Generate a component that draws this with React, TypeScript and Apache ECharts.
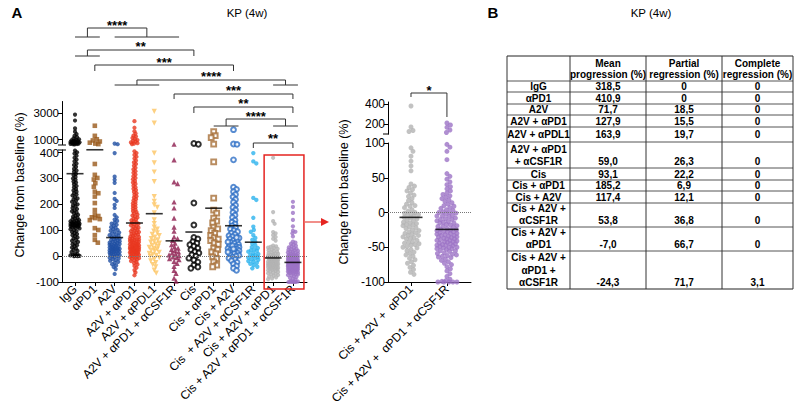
import React, { useEffect, useRef } from "react";
import * as echarts from "echarts";

// ---------------- DATA ----------------
const groupLabels = [
  "IgG",
  "αPD1",
  "A2V",
  "A2V + αPD1",
  "A2V + αPDL1",
  "A2V + αPD1 + αCSF1R",
  "Cis",
  "Cis + αPD1",
  "Cis + A2V",
  "Cis  + A2V + αCSF1R",
  "Cis + A2V + αPD1",
  "Cis + A2V + αPD1 + αCSF1R",
];

const tableLabels = [
  "IgG",
  "αPD1",
  "A2V",
  "A2V + αPD1",
  "A2V + αPDL1",
  "A2V + αPD1\n+ αCSF1R",
  "Cis",
  "Cis + αPD1",
  "Cis + A2V",
  "Cis + A2V +\nαCSF1R",
  "Cis + A2V +\nαPD1",
  "Cis + A2V +\nαPD1 +\nαCSF1R",
];

const tableHeaders = ["Mean\nprogression (%)", "Partial\nregression (%)", "Complete\nregression (%)"];
const meanProgression = [318.5, 410.9, 71.7, 127.9, 163.9, 59.0, 93.1, 185.2, 117.4, 53.8, -7.0, -24.3];
const partialRegression = [0, 0, 18.5, 15.5, 19.7, 26.3, 22.2, 6.9, 12.1, 36.8, 66.7, 71.7];
const completeRegression = [0, 0, 0, 0, 0, 0, 0, 0, 0, 0, 0, 3.1];

const iggValues = [
  2900, 2450, 1850, 1600, 1420, 1280, 1180, 1090, 1020, 980, 940, 910, 880, 860, 835, 810, 790, 770, 745, 725, 700,
  690, 670, 655, 640, 630, 408, 401, 396, 388, 380, 373, 366, 358, 352, 345, 337, 331, 326, 318, 313, 306, 300, 295,
  288, 284, 277, 271, 266, 259, 254, 249, 243, 238, 234, 228, 223, 219, 214, 210, 204, 200, 196, 191, 186, 182, 177,
  173, 169, 165, 160, 156, 152, 148, 145, 142, 139, 136, 133, 131, 129, 127, 125, 123, 121, 119, 117, 115, 113, 110,
  107, 104, 101, 97, 93, 89, 85, 81, 77, 72, 68, 63, 59, 55, 50, 46, 42, 38, 33, 29, 24, 20, 16, 11, 7, 4, 2, 0, 1,
  3, 0, 128, 124, 120, 134, 116, 112,
];
const apd1Values = [
  2050, 1280, 1020, 930, 850, 760, 690, 650, 356, 314, 302, 296, 282, 268, 249, 243, 230, 205, 178, 161, 155, 150,
  147, 143, 139, 108, 101, 81, 63, 52,
];
const a2vValues = [
  690, 640, 398, 307, 295, 283, 244, 221, 213, 198, 186, 159, 150, 141, 136, 129, 126, 121, 117, 112, 109, 104, 101,
  98, 94, 91, 88, 84, 81, 79, 76, 73, 70, 68, 65, 62, 60, 57, 55, 52, 50, 47, 45, 43, 40, 38, 36, 34, 31, 29, 27, 25,
  23, 21, 19, 17, 15, 13, 11, 9, 7, 5, 3, 1, -1, -3, -6, -9, -12, -15, -18, -22, -26, -31, -36, -42, -50, -69, 44,
  37, 28, 22, 16, 10, 33, 58, 48, 26,
];
const a2vPd1Values = [
  2400, 1900, 1630, 1450, 1300, 1230, 1120, 1040, 960, 900, 840, 780, 720, 680, 650, 405, 398, 391, 384, 377, 369,
  362, 356, 349, 341, 335, 328, 322, 315, 309, 302, 297, 290, 284, 279, 272, 266, 260, 255, 248, 243, 237, 231, 226,
  220, 215, 209, 204, 199, 194, 189, 184, 179, 174, 170, 165, 161, 157, 153, 149, 145, 141, 138, 134, 131, 128, 125,
  122, 119, 116, 113, 110, 107, 104, 101, 98, 96, 93, 91, 88, 86, 83, 81, 78, 76, 74, 71, 69, 67, 64, 62, 60, 58, 56,
  54, 52, 50, 48, 46, 44, 42, 40, 38, 37, 35, 33, 31, 30, 28, 26, 25, 23, 21, 20, 18, 16, 15, 13, 11, 10, 8, 6, 5, 3,
  1, 0, -2, -4, -6, -8, -10, -13, -16, -19, -23, -27, -32, -38, -45, -54, -63, -74, 45, 40, 35, 30, 25, 20, 15, 55,
  65, 12,
];
const a2vPdl1Values = [
  3150, 2250, 398, 360, 325, 288, 230, 212, 198, 188, 167, 140, 126, 112, 104, 97, 90, 84, 79, 73, 68, 63, 58, 54, 50,
  46, 42, 38, 34, 30, 27, 23, 19, 15, 11, 7, 3, -1, -6, -12, -18, -25, -33, -41, -54, -66,
];
const a2vPd1CsfValues = [
  640, 372, 287, 280, 209, 186, 147, 112, 96, 74, 68, 61, 50, 44, 36, 31, 26, 21, 16, 12, 8, 5, 2, -3, -6, -10, -14,
  -20, -28, -40, -55, -67, -85, -97,
];
const cisValues = [700, 640, 205, 120, 72, 66, 56, 50, 44, 38, 31, 25, 17, 12, 5, 0, -8, -15, -23, -35, -47, -42];
const cisPd1Values = [
  1600, 1300, 1150, 650, 364, 224, 178, 166, 147, 135, 128, 112, 105, 98, 88, 80, 71, 66, 60, 51, 45, 31, 25, 16, 10,
  -3, -10, -22, -35, -41,
];
const cisA2vValues = [
  1750, 660, 630, 372, 266, 258, 249, 238, 229, 219, 208, 197, 188, 178, 169, 158, 149, 139, 131, 124, 117, 111, 105,
  99, 94, 89, 84, 79, 75, 70, 66, 61, 57, 53, 49, 45, 41, 37, 34, 30, 27, 24, 21, 18, 15, 12, 9, 6, 3, 0, -4, -8, -13,
  -18, -24, -30, -38, -47, -55, 40, 28, 16, 72, 55,
];
const cisA2vCsfValues = [
  398, 366, 358, 225, 217, 148, 114, 101, 94, 81, 70, 63, 55, 48, 41, 35, 31, 26, 22, 17, 12, 8, 5, 1, -3, -6, -10,
  -14, -19, -22, -26, -30, -35, -41, -47, 20, 4, -12,
];
const cisA2vPd1Values = [
  380, 170, 135, 125, 93, 88, 81, 74, 67, 60, 41, 38, 36, 33, 31, 28, 25, 23, 20, 17, 14, 12, 9, 7, 4, 2, 0, -2, -4,
  -5, -7, -9, -11, -12, -14, -16, -18, -19, -21, -23, -25, -26, -28, -30, -31, -33, -35, -37, -38, -40, -42, -44, -45,
  -47, -49, -51, -53, -55, -57, -59, -61, -63, -66, -68, -71, -73, -76, -79, -82, -86, -89, -1, -8, -15, -22, -29,
  -36, -43, -50, 10, -3, -17, -33, -46,
];
const cisA2vPd1CsfValues = [
  210, 190, 167, 140, 115, 98, 94, 88, 76, 56, 52, 48, 44, 40, 37, 34, 31, 28, 26, 24, 22, 20, 18, 16, 14, 12, 10, 9,
  7, 6, 4, 3, 1, 0, -1, -2, -4, -5, -6, -8, -9, -10, -12, -13, -14, -15, -17, -18, -19, -20, -21, -23, -24, -25, -26,
  -27, -28, -29, -30, -31, -32, -33, -34, -35, -36, -37, -38, -39, -40, -41, -42, -43, -44, -45, -46, -47, -48, -49,
  -50, -51, -52, -53, -55, -56, -58, -59, -61, -62, -64, -65, -67, -69, -71, -73, -75, -78, -81, -84, -88, -92, -96,
  -98, -99, -100, -100, -100, -100, -100, -30, -35, -40, -45, -25, -20, -50, -55, -60, -15, -10, -5, 0, -38, -42,
  -33, -28, -47, -52, -63,
];

const groupValues = [
  iggValues,
  apd1Values,
  a2vValues,
  a2vPd1Values,
  a2vPdl1Values,
  a2vPd1CsfValues,
  cisValues,
  cisPd1Values,
  cisA2vValues,
  cisA2vCsfValues,
  cisA2vPd1Values,
  cisA2vPd1CsfValues,
];

const insetLabels = ["Cis + A2V +  αPD1", "Cis + A2V +  αPD1 + αCSF1R"];
const insetGroups = [10, 11];
const insetMeans = [-7.0, -24.3];

const leftUpperTicks = [1000, 3000];
const leftLowerTicks = [-100, 0, 100, 200, 300, 400];
const insetUpperTicks = [200, 400];
const insetLowerTicks = [-100, -50, 0, 50, 100];

const comparisons = [
  { left: [0, 1], right: [2, 5], stars: "****" },
  { left: [0, 1], right: [6, 6], stars: "**" },
  { left: [1, 1], right: [8, 8], stars: "***" },
  { left: [2, 4], right: [10, 11], stars: "****" },
  { left: [5, 5], right: [11, 11], stars: "***" },
  { left: [6, 6], right: [11, 11], stars: "**" },
  { left: [7, 8], right: [10, 11], stars: "****" },
  { left: [9, 9], right: [11, 11], stars: "**" },
];
const insetComparison = { stars: "*" };

// ---------------- STYLE / LAYOUT ----------------
const FONT = "Liberation Sans, Arial, sans-serif";
const groupStyles: any[] = [
  { color: "#000000", symbol: "circle", size: 4.2, gap: 2.6, spread: 4.6 },
  { color: "#9a5a1c", symbol: "rect", size: 4.6, gap: 3.8, spread: 5 },
  { color: "#1f4fa3", symbol: "circle", size: 4.2, gap: 2.8, spread: 5 },
  { color: "#e9371f", symbol: "circle", size: 4.2, gap: 2.5, spread: 4.5 },
  { color: "#fcc462", symbol: "triangle", size: 5.2, rotate: 180, gap: 3.6, spread: 5 },
  { color: "#8c1c4e", symbol: "triangle", size: 5.2, gap: 3.6, spread: 5 },
  { color: "#000000", symbol: "emptyCircle", size: 4.8, gap: 4.2, spread: 5.5 },
  { color: "#a8703a", symbol: "emptyRect", size: 4.8, gap: 4.2, spread: 5.5 },
  { color: "#2e6fc6", symbol: "emptyCircle", size: 4.8, gap: 3.4, spread: 5.5 },
  { color: "#2cb3ee", symbol: "circle", size: 4.4, gap: 3.4, spread: 5 },
  { color: "#b3b3b3", symbol: "circle", size: 4.2, gap: 2.8, spread: 5 },
  { color: "#9c73c6", symbol: "circle", size: 4.2, gap: 2.6, spread: 5 },
];
const insetSpread = [8, 10];
const bracketLevels = [
  { bar: 28, foot: 37, star: 22 },
  { bar: 50, foot: 56, star: 43 },
  { bar: 65, foot: 71, star: 59 },
  { bar: 80, foot: 85, star: 73 },
  { bar: 94, foot: 99, star: 87 },
  { bar: 107, foot: 113, star: 100 },
  { bar: 119, foot: 126, star: 113 },
  { bar: 143, foot: 148, star: 135 },
];
const LEFT_BREAK = 410;
const INSET_BREAK = 100;
const tableCols = [507, 570, 646, 722, 793];
const tableTop = 56;
const tableRowBottoms = [81, 92, 104, 115, 127, 142, 168, 180, 191, 203, 227, 251, 289];

function fmt(v: number) {
  if (v === 0) return "0";
  return v.toFixed(1).replace(".", ",");
}

function swarm(ys: number[], gap: number, maxOff: number): number[] {
  const order = ys.map((_, i) => i).sort((a, b) => ys[a] - ys[b]);
  const placed: { x: number; y: number }[] = [];
  const out = new Array(ys.length).fill(0);
  const step = 0.5;
  for (const i of order) {
    const y = ys[i];
    const near = placed.filter((p) => Math.abs(p.y - y) < gap);
    let best = 0;
    let bestScore = -Infinity;
    const nSteps = Math.floor(maxOff / step);
    for (let k = 0; k <= nSteps * 2; k++) {
      const off = (k % 2 === 1 ? 1 : -1) * Math.ceil(k / 2) * step;
      let minD = Infinity;
      for (const p of near) {
        const d = Math.hypot(p.x - off, p.y - y);
        if (d < minD) minD = d;
      }
      if (minD >= gap) {
        best = off;
        bestScore = Infinity;
        break;
      }
      if (minD > bestScore) {
        bestScore = minD;
        best = off;
      }
    }
    out[i] = best;
    placed.push({ x: best, y });
  }
  return out;
}

const axisBase = (extra: any = {}) => ({
  type: "value",
  splitLine: { show: false },
  axisLine: { show: true, onZero: false, lineStyle: { color: "#000", width: 1 } },
  axisTick: { show: true, length: 4, lineStyle: { color: "#000", width: 1 } },
  axisLabel: { color: "#000", fontSize: 12, fontFamily: FONT, margin: 3 },
  ...extra,
});

const yLabel = (customValues: number[], size = 12) => ({
  customValues,
  color: "#000",
  fontSize: size,
  fontFamily: FONT,
  margin: 3,
  formatter: (v: number) => String(v),
});
const yTick = (customValues: number[]) => ({
  show: true,
  length: 4,
  lineStyle: { color: "#000" },
  customValues,
});

function buildOption(leftOff: number[][] | null, insetOff: number[][] | null, graphic: any[]) {
  const series: any[] = [];
  groupValues.forEach((vals, g) => {
    const st = groupStyles[g];
    const up: number[][] = [];
    const lo: number[][] = [];
    vals.forEach((v, i) => {
      const x = g + (leftOff ? leftOff[g][i] : 0);
      if (v > LEFT_BREAK) up.push([x, v]);
      else lo.push([x, v]);
    });
    const common = {
      type: "scatter",
      symbol: st.symbol,
      symbolSize: st.size,
      symbolRotate: st.rotate || 0,
      itemStyle: { color: st.color, borderColor: st.color, borderWidth: st.symbol.startsWith("empty") ? 1 : 0 },
      silent: true,
      clip: false,
    };
    series.push({ ...common, xAxisIndex: 0, yAxisIndex: 0, data: up });
    series.push({ ...common, xAxisIndex: 1, yAxisIndex: 1, data: lo });
  });
  series.push({
    type: "scatter",
    xAxisIndex: 1,
    yAxisIndex: 1,
    symbol: "rect",
    symbolSize: [17, 1.6],
    itemStyle: { color: "#000" },
    z: 10,
    silent: true,
    clip: false,
    data: meanProgression.map((m, g) => [g, m]),
    markLine: {
      silent: true,
      symbol: ["none", "none"],
      label: { show: false },
      lineStyle: { color: "#777", type: "dotted", width: 1 },
      data: [{ yAxis: 0 }],
    },
  });
  insetGroups.forEach((g, k) => {
    const st = groupStyles[g];
    const up: number[][] = [];
    const lo: number[][] = [];
    groupValues[g].forEach((v, i) => {
      const x = k + (insetOff ? insetOff[k][i] : 0);
      if (v > INSET_BREAK) up.push([x, v]);
      else lo.push([x, v]);
    });
    const common = {
      type: "scatter",
      symbol: st.symbol,
      symbolSize: 5,
      itemStyle: { color: st.color },
      silent: true,
      clip: false,
    };
    series.push({ ...common, xAxisIndex: 2, yAxisIndex: 2, data: up });
    series.push({ ...common, xAxisIndex: 3, yAxisIndex: 3, data: lo });
  });
  series.push({
    type: "scatter",
    xAxisIndex: 3,
    yAxisIndex: 3,
    symbol: "rect",
    symbolSize: [23, 1.6],
    itemStyle: { color: "#000" },
    z: 10,
    silent: true,
    clip: false,
    data: insetMeans.map((m, k) => [k, m]),
    markLine: {
      silent: true,
      symbol: ["none", "none"],
      label: { show: false },
      lineStyle: { color: "#777", type: "dotted", width: 1 },
      data: [{ yAxis: 0 }],
    },
  });

  const idx = groupLabels.map((_, i) => i);
  const xLabel = (customValues: number[], labels: string[]) => ({
    customValues,
    rotate: 45,
    fontSize: 12,
    fontFamily: FONT,
    color: "#000",
    margin: 5,
    formatter: (v: number) => labels[Math.round(v)] ?? "",
  });
  return {
    animation: false,
    backgroundColor: "#fff",
    grid: [
      { left: 62, width: 245, top: 101.5, height: 43 },
      { left: 62, width: 245, top: 150, height: 132 },
      { left: 388, width: 83, top: 102, height: 32 },
      { left: 388, width: 83, top: 143, height: 139 },
    ],
    xAxis: [
      axisBase({ gridIndex: 0, min: -0.657, max: 11.71, show: false }),
      axisBase({
        gridIndex: 1,
        min: -0.657,
        max: 11.71,
        axisTick: yTick(idx),
        axisLabel: xLabel(idx, groupLabels),
      }),
      axisBase({ gridIndex: 2, min: -0.64, max: 1.67, show: false }),
      axisBase({
        gridIndex: 3,
        min: -0.64,
        max: 1.67,
        axisTick: yTick([0, 1]),
        axisLabel: xLabel([0, 1], insetLabels),
      }),
    ],
    yAxis: [
      axisBase({
        gridIndex: 0,
        min: 620,
        max: 3900,
        axisTick: yTick(leftUpperTicks),
        axisLabel: yLabel(leftUpperTicks, 11.5),
      }),
      axisBase({
        gridIndex: 1,
        min: -100,
        max: LEFT_BREAK,
        axisTick: yTick(leftLowerTicks),
        axisLabel: yLabel(leftLowerTicks, 11.5),
      }),
      axisBase({
        gridIndex: 2,
        min: INSET_BREAK,
        max: 420,
        axisTick: yTick(insetUpperTicks),
        axisLabel: yLabel(insetUpperTicks),
      }),
      axisBase({
        gridIndex: 3,
        min: -100,
        max: INSET_BREAK,
        axisTick: yTick(insetLowerTicks),
        axisLabel: yLabel(insetLowerTicks),
      }),
    ],
    series,
    graphic: { elements: graphic },
  };
}

const txt = (x: number, y: number, text: string, o: any = {}) => ({
  type: "text",
  x,
  y,
  rotation: o.rotation || 0,
  silent: true,
  z: 100,
  style: {
    text,
    fill: o.fill || "#000",
    fontFamily: FONT,
    fontSize: o.size || 12,
    fontWeight: o.weight || "normal",
    align: o.align || "center",
    verticalAlign: "middle",
    textAlign: o.align || "center",
    textVerticalAlign: "middle",
    lineHeight: o.lineHeight || 12,
  },
});
const ln = (x1: number, y1: number, x2: number, y2: number, stroke = "#222", w = 1) => ({
  type: "line",
  silent: true,
  z: 100,
  shape: { x1, y1, x2, y2 },
  style: { stroke, lineWidth: w },
});
const pl = (points: number[][], stroke = "#333", w = 1) => ({
  type: "polyline",
  silent: true,
  z: 100,
  shape: { points },
  style: { stroke, lineWidth: w, fill: null },
});

export default function App() {
  const ref = useRef<HTMLDivElement>(null);
  useEffect(() => {
    const chart = echarts.init(ref.current!, null, { renderer: "svg" });
    chart.setOption(buildOption(null, null, []) as any, true);

    const px = (axis: any, v: number) => chart.convertToPixel(axis, v) as unknown as number;
    const unitL = px({ xAxisIndex: 1 }, 1) - px({ xAxisIndex: 1 }, 0);
    const unitI = px({ xAxisIndex: 3 }, 1) - px({ xAxisIndex: 3 }, 0);
    const leftOff = groupValues.map((vals, g) => {
      const ys = vals.map((v) => px({ yAxisIndex: v > LEFT_BREAK ? 0 : 1 }, v));
      return swarm(ys, groupStyles[g].gap, groupStyles[g].spread).map((o) => o / unitL);
    });
    const insetOff = insetGroups.map((g, k) => {
      const ys = groupValues[g].map((v) => px({ yAxisIndex: v > INSET_BREAK ? 2 : 3 }, v));
      return swarm(ys, 4.0, insetSpread[k]).map((o) => o / unitI);
    });

    const gx = (g: number) => px({ xAxisIndex: 1 }, g);
    const ix = (k: number) => px({ xAxisIndex: 3 }, k);
    const els: any[] = [];

    // panel labels and titles
    els.push(txt(17, 12, "A", { size: 15, weight: "bold" }));
    els.push(txt(493, 12, "B", { size: 15, weight: "bold" }));
    els.push(txt(247, 13, "KP (4w)", { size: 11.5 }));
    els.push(txt(651, 13, "KP (4w)", { size: 11.5 }));
    els.push(txt(20, 185, "Change from baseline (%)", { size: 12.5, rotation: Math.PI / 2 }));
    els.push(txt(344, 192, "Change from baseline (%)", { size: 12.5, rotation: Math.PI / 2 }));

    // axis break marks
    els.push(ln(58, 145, 66, 145, "#000"));
    els.push(ln(58, 150, 66, 150, "#000"));
    els.push(ln(383, 134, 389, 134, "#000"));

    // significance brackets (left panel)
    comparisons.forEach((c, i) => {
      const lv = bracketLevels[i];
      const side = (r: number[]) => {
        if (r[0] === r[1]) return { leg: gx(r[0]), sub: null as null | number[] };
        const a = gx(r[0]);
        const b = gx(r[1]) + 5;
        return { leg: (a + b) / 2, sub: [a, b] };
      };
      const L = side(c.left);
      const R = side(c.right);
      els.push(pl([[L.leg, lv.foot], [L.leg, lv.bar], [R.leg, lv.bar], [R.leg, lv.foot]]));
      if (L.sub) els.push(ln(L.sub[0], lv.foot, L.sub[1], lv.foot, "#333"));
      if (R.sub) els.push(ln(R.sub[0], lv.foot, R.sub[1], lv.foot, "#333"));
      els.push(txt((L.leg + R.leg) / 2, lv.star + 3, c.stars, { size: 13, weight: "bold" }));
    });

    // inset bracket
    els.push(pl([[ix(0), 97], [ix(0), 93], [ix(1), 93], [ix(1), 117]]));
    els.push(txt((ix(0) + ix(1)) / 2, 90, insetComparison.stars, { size: 13, weight: "bold" }));

    // red highlight box and arrow
    els.push({
      type: "rect",
      silent: true,
      z: 90,
      shape: { x: gx(10) - 9, y: 155, width: gx(11) - gx(10) + 20, height: 134 },
      style: { fill: null, stroke: "#e52421", lineWidth: 1.5 },
    });
    els.push(ln(gx(11) + 11, 222, 322, 222, "#ec6a63", 1.5));
    els.push({
      type: "polygon",
      silent: true,
      z: 100,
      shape: { points: [[321, 218], [329, 222], [321, 226]] },
      style: { fill: "#e52421" },
    });

    // table
    const rowLines = [tableTop, ...tableRowBottoms];
    rowLines.forEach((y, i) => {
      const outer = i === 0 || i === rowLines.length - 1;
      els.push(ln(tableCols[0], y, tableCols[tableCols.length - 1], y, outer ? "#222" : "#555", 1));
    });
    tableCols.forEach((x) => els.push(ln(x, tableTop, x, tableRowBottoms[tableRowBottoms.length - 1], "#333", 1)));
    const colCenter = (c: number) => (tableCols[c] + tableCols[c + 1]) / 2;
    tableHeaders.forEach((h, c) => {
      h.split("\n").forEach((line, k) => {
        els.push(txt(colCenter(c + 1), tableTop + 7 + k * 11.5, line, { size: 10, weight: "bold" }));
      });
    });
    tableLabels.forEach((label, r) => {
      const top = rowLines[r + 1];
      const bottom = rowLines[r + 2];
      const lines = label.split("\n");
      const n = lines.length;
      const lastY = n === 1 ? (top + bottom) / 2 : bottom - 6.5;
      lines.forEach((line, k) => {
        els.push(txt(colCenter(0), lastY - (n - 1 - k) * 12.3, line, { size: 10, weight: "bold" }));
      });
      const vals = [meanProgression[r], partialRegression[r], completeRegression[r]];
      vals.forEach((v, c) => els.push(txt(colCenter(c + 1), lastY, fmt(v), { size: 10, weight: "bold" })));
    });

    chart.setOption(buildOption(leftOff, insetOff, els) as any, true);
    return () => chart.dispose();
  }, []);
  return (
    <div
      ref={ref}
      style={{ position: "absolute", left: 0, top: 0, width: 800, height: 408, background: "#fff" }}
    />
  );
}
